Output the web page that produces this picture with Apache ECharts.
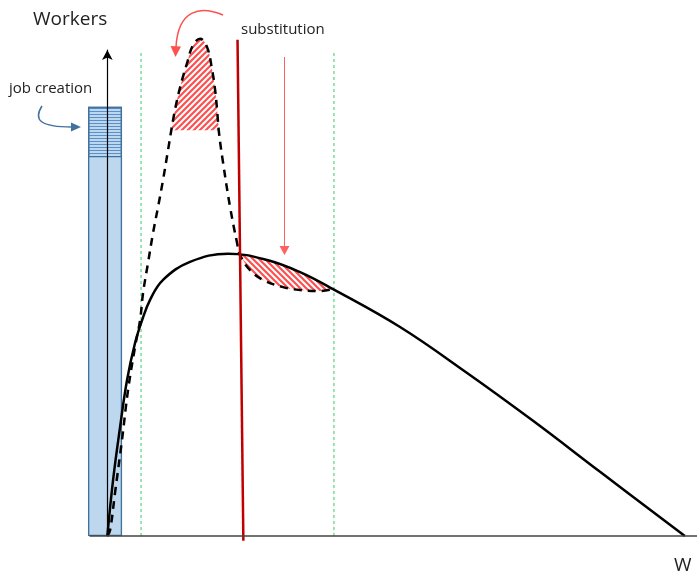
<!DOCTYPE html>
<html>
<head>
<meta charset="utf-8">
<script src="https://cdn.jsdelivr.net/npm/echarts@6/dist/echarts.min.js"></script>
<style>
  html, body { margin: 0; padding: 0; background: #fff; }
  #chart { width: 697px; height: 579px; }
</style>
</head>
<body>
<div id="chart"></div>
<script>
// x = wage W, y = workers (axis 0..100)
const solidCurve = [
  [0, 0], [0.99, 11.5], [2.2, 22.4], [3.41, 32.1], [4.79, 39.7], [6.01, 44.4],
  [7.39, 48.6], [9.64, 52.7], [14.3, 56.4], [20.9, 58.1],
  [27.64, 56.8], [33.34, 54.3], [39.05, 50.8],
  [50.63, 43.0], [62.05, 33.7], [73.64, 23.7], [85.23, 13.2], [99.9, 0]
]
const dashedCurve = [
  [0, 0], [0.47, 1.2], [1.33, 8.9], [2.54, 19.8], [3.58, 30.0], [4.79, 38.9],
  [5.66, 44.4], [6.18, 50.0], [7.04, 56.2], [7.91, 62.4], [8.77, 67.7],
  [9.64, 73.3], [10.5, 79.4], [11.37, 85.6], [12.06, 89.7], [12.92, 93.8],
  [13.79, 97.3], [14.82, 101.0], [16.04, 102.3], [17.25, 100.6], [18.12, 95.9],
  [18.64, 91.8], [18.98, 87.7], [19.32, 82.9], [20.02, 76.8], [21.23, 67.7],
  [22.44, 60.3], [22.96, 57.8], [24.69, 54.7], [26.94, 52.7], [30.4, 51.2],
  [33.34, 50.6], [36.8, 50.4], [39.05, 50.8]
]
// hatched top of the dashed peak, down to a flat floor
const peakHatch = [
  [11.1, 83.5], [11.37, 85.6], [12.06, 89.7], [12.92, 93.8], [13.79, 97.3],
  [14.82, 101.0], [16.04, 102.3], [17.25, 100.6], [18.12, 95.9], [18.64, 91.8],
  [18.98, 87.7], [19.3, 83.5]
]
const peakFloor = 83.5
// hatched gap between solid (upper) and dashed (lower) right of the red line
const lossUpper = [[22.96, 57.9], [27.64, 56.8], [33.34, 54.3], [39.05, 50.8]]
const lossLower = [[22.96, 57.9], [24.69, 54.7], [26.94, 52.7], [30.4, 51.2], [33.34, 50.6], [36.8, 50.4], [39.05, 50.8]]
// job creation bar: base part and total with the new jobs
const barBase = [[-0.4, 78.2]]
const barTotal = [[-0.4, 88.3]]
const redLine = [[22.52, 102.1], [23.53, -1.0]]
const greenX = [5.83, 39.2]
const greenTop = 100

function stripes (dir) {
  const s = 6
  const c = document.createElement('canvas')
  c.width = s; c.height = s
  const g = c.getContext('2d')
  g.strokeStyle = '#ff4f4f'
  g.lineWidth = 2.2
  g.beginPath()
  if (dir === '/') {
    g.moveTo(0, s); g.lineTo(s, 0)
    g.moveTo(-s, s); g.lineTo(s, -s)
    g.moveTo(0, 2 * s); g.lineTo(2 * s, 0)
  } else {
    g.moveTo(0, 0); g.lineTo(s, s)
    g.moveTo(0, -s); g.lineTo(2 * s, s)
    g.moveTo(-s, 0); g.lineTo(s, 2 * s)
  }
  g.stroke()
  return { image: c, repeat: 'repeat' }
}

const myChart = echarts.init(document.getElementById('chart'))
const txt = { fontFamily: 'Open Sans', fill: '#222' }

const option = {
  animation: false,
  grid: { left: 90, right: 0, top: 50, bottom: 43 },
  xAxis: {
    type: 'value', min: -3, max: 102, z: 10,
    axisLine: { lineStyle: { color: '#444', width: 1.5 } },
    axisTick: { show: false }, axisLabel: { show: false }, splitLine: { show: false }
  },
  yAxis: {
    type: 'value', min: 0, max: 100, z: 10,
    axisLine: { onZero: true, symbol: ['none', 'arrow'], symbolSize: [8, 10], lineStyle: { color: '#000', width: 1.2 } },
    axisTick: { show: false }, axisLabel: { show: false }, splitLine: { show: false }
  },
  graphic: [
    { type: 'text', left: 33, top: 10, style: Object.assign({ text: 'Workers', fontSize: 19 }, txt) },
    { type: 'text', left: 674, top: 556, style: Object.assign({ text: 'W', fontSize: 19 }, txt) },
    { type: 'text', left: 241, top: 22, style: Object.assign({ text: 'substitution', fontSize: 15 }, txt) },
    { type: 'text', left: 9, top: 81, style: Object.assign({ text: 'job creation', fontSize: 15 }, txt) },
    // blue curved arrow
    { type: 'bezierCurve', shape: { x1: 42, y1: 106, cpx1: 33, cpy1: 120, cpx2: 40, cpy2: 127, x2: 72, y2: 127 },
      style: { stroke: '#41719c', lineWidth: 1.5, fill: null } },
    { type: 'polygon', shape: { points: [[81, 127], [71, 122.5], [71, 131.5]] }, style: { fill: '#41719c' } },
    // red curved arrow
    { type: 'bezierCurve', shape: { x1: 223, y1: 15, cpx1: 200, cpy1: 5, cpx2: 178, cpy2: 10, x2: 176, y2: 47 },
      style: { stroke: '#ff5050', lineWidth: 1.5, fill: null } },
    { type: 'polygon', shape: { points: [[175.5, 57], [170.5, 46], [181, 46.5]] }, style: { fill: '#ff5050' } },
    // red straight arrow
    { type: 'line', shape: { x1: 284.5, y1: 57, x2: 284.5, y2: 247 }, style: { stroke: '#ff6060', lineWidth: 1 } },
    { type: 'polygon', shape: { points: [[284.5, 255], [279.5, 246], [289.5, 246]] }, style: { fill: '#ff6060' } }
  ],
  series: [
    {
      type: 'bar', data: barTotal, barWidth: 34, barGap: '-100%', z: 1,
      itemStyle: {
        color: '#bdd7ee', borderColor: '#41719c', borderWidth: 1.3,
        decal: { symbol: 'rect', symbolSize: 1, dashArrayX: [1, 0], dashArrayY: [1, 2], rotation: 0, color: '#5b8fc9' }
      }
    },
    {
      type: 'bar', data: barBase, barWidth: 34, barGap: '-100%', z: 1,
      itemStyle: { color: '#bdd7ee', borderColor: '#41719c', borderWidth: 1.3 }
    },
    {
      type: 'line', data: peakHatch, smooth: 0.4, showSymbol: false, clip: false, z: 2,
      lineStyle: { width: 0 },
      areaStyle: { color: stripes('/'), opacity: 1, origin: peakFloor }
    },
    {
      type: 'line', data: lossUpper, smooth: 0.4, showSymbol: false, z: 2,
      lineStyle: { width: 0 },
      areaStyle: { color: stripes('\\'), opacity: 1 }
    },
    {
      type: 'line', data: lossLower, smooth: 0.4, showSymbol: false, z: 3,
      lineStyle: { width: 0 },
      areaStyle: { color: '#fff', opacity: 1 }
    },
    ...greenX.map(x => ({
      type: 'line', data: [[x, 0], [x, greenTop]], showSymbol: false, z: 4,
      lineStyle: { color: '#33cc66', width: 1, type: [3, 3] }
    })),
    {
      type: 'line', data: solidCurve, smooth: 0.4, showSymbol: false, z: 5,
      lineStyle: { color: '#000', width: 2.5 }
    },
    {
      type: 'line', data: dashedCurve, smooth: 0.4, showSymbol: false, clip: false, z: 5,
      lineStyle: { color: '#000', width: 2.5, type: [8, 6] }
    },
    {
      type: 'line', data: redLine, showSymbol: false, clip: false, z: 6,
      lineStyle: { color: '#c00000', width: 2.5 }
    }
  ]
}

myChart.setOption(option)
</script>
</body>
</html>
